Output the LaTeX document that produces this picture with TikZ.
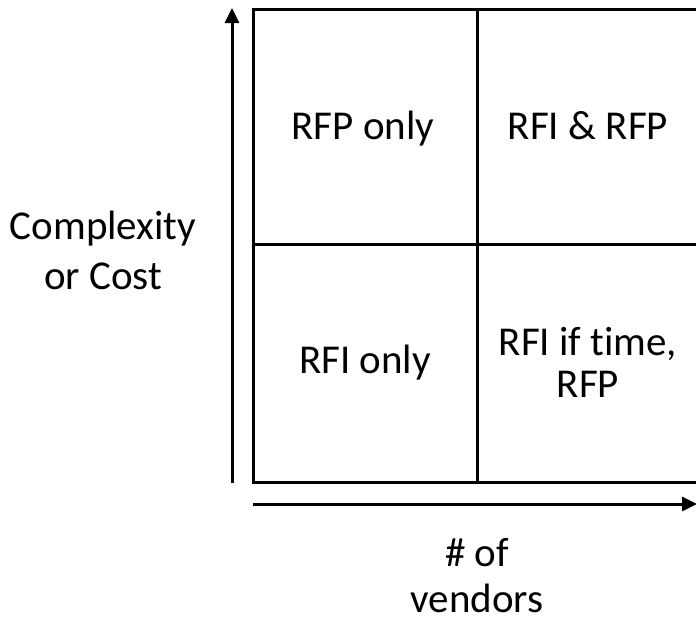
\documentclass[tikz,border=0pt]{standalone}
\usepackage{fontspec}
\setmainfont[Ligatures=NoCommon]{Carlito}
\usetikzlibrary{arrows.meta}
\begin{document}
\begin{tikzpicture}[x=1pt,y=-1pt,
  lbl/.style={font=\fontsize{41}{46}\selectfont, align=center, text=black, anchor=base, inner sep=0pt},
  ln/.style={line width=3pt, draw=black},
  ax/.style={line width=3pt, -{Triangle[length=15pt,width=14pt]}}]
\useasboundingbox (0,0) rectangle (696,619);
\clip (0,0) rectangle (696,619);
\coordinate (tl) at (253,9);
\coordinate (br) at (720,482);
\coordinate (mt) at (477,9);
\coordinate (mb) at (477,482);
\coordinate (ml) at (253,244);
\coordinate (mr) at (720,244);
\draw[ln] (tl) rectangle (br);
\draw[ln] (mt) -- (mb);
\draw[ln] (ml) -- (mr);
\coordinate (ya) at (232,483);
\coordinate (yb) at (232,8);
\coordinate (xa) at (253,504);
\coordinate (xb) at (697,504);
\draw[ax] (ya) -- (yb);
\draw[ax] (xa) -- (xb);
\node[lbl] (q1) at (363,139) {RFP only};
\node[lbl] (q2) at (588,139) {RFI \& RFP};
\node[lbl] (q3) at (365,373) {RFI only};
\node[lbl, font=\fontsize{41}{42}\selectfont] (q4) at (588,397) {RFI if time,\\RFP};
\node[lbl, font=\fontsize{41}{50}\selectfont] (yl) at (103,289) {Complexity\\or Cost};
\node[lbl, font=\fontsize{41}{46}\selectfont] (xl) at (477,612) {\# of\\vendors};
\end{tikzpicture}
\end{document}
